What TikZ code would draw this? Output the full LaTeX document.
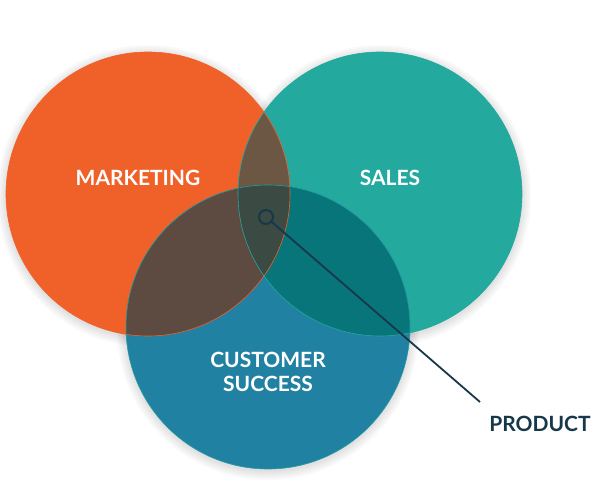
\documentclass[tikz,border=0pt]{standalone}
\usepackage{fontspec}
\setmainfont{Lato}
\definecolor{mktorange}{HTML}{F0612A}
\definecolor{salesteal}{HTML}{23A99E}
\definecolor{csblue}{HTML}{2181A2}
\definecolor{mktsales}{HTML}{6C5744}
\definecolor{mktcs}{HTML}{5D4A40}
\definecolor{salescs}{HTML}{08757A}
\definecolor{allthree}{HTML}{3B4A43}
\definecolor{linkdark}{HTML}{16384A}
\begin{document}
\begin{tikzpicture}[x=1pt,y=-1pt,
    venn/.style={circle,minimum size=284pt,inner sep=0pt},
    halo/.style={fill=black,opacity=0.025},
    lbl/.style={text=white,font=\fontsize{21}{24.5}\selectfont\bfseries,align=center}]
    \useasboundingbox (0,0) rectangle (600,502);
    \fill[white] (0,0) rectangle (600,502);
    % soft shadow behind the circles
    \foreach \r in {143,145,147,149,151} {
        \fill[halo] (148,196) circle (\r pt);
        \fill[halo] (380,196) circle (\r pt);
        \fill[halo] (268,329) circle (\r pt);
    }
    % the three circles
    \node[venn,fill=mktorange] (mkt) at (148,194) {};
    \node[venn,fill=salesteal] (sales) at (380,194) {};
    \node[venn,fill=csblue] (cs) at (268,327) {};
    % overlaps
    \begin{scope}
        \clip (mkt.center) circle (142pt);
        \fill[mktsales] (sales.center) circle (142pt);
        \fill[mktcs] (cs.center) circle (142pt);
    \end{scope}
    \begin{scope}
        \clip (sales.center) circle (142pt);
        \fill[salescs] (cs.center) circle (142pt);
        \clip (cs.center) circle (142pt);
        \fill[allthree] (mkt.center) circle (142pt);
    \end{scope}
    \draw[mktorange,line width=0.6pt] (mkt.center) circle (142pt);
    \draw[salesteal,line width=0.6pt] (sales.center) circle (142pt);
    \draw[salesteal!70!csblue,line width=0.6pt] (cs.center) circle (142pt);
    % labels
    \node[lbl] (mktlabel) at (138,178) {MARKETING};
    \node[lbl] (saleslabel) at (390,178) {SALES};
    \node[lbl] (cslabel) at (268,372) {CUSTOMER\\SUCCESS};
    \node[text=linkdark,font=\fontsize{21}{24}\selectfont\bfseries] (prodlabel) at (540,424) {PRODUCT};
    % pointer
    \node[circle,draw=linkdark,line width=2pt,minimum size=14pt,inner sep=0pt] (dot) at (266,217) {};
    \coordinate (tail) at (480,402);
    \draw[linkdark,line width=1.8pt] (dot) -- (tail);
\end{tikzpicture}
\end{document}
